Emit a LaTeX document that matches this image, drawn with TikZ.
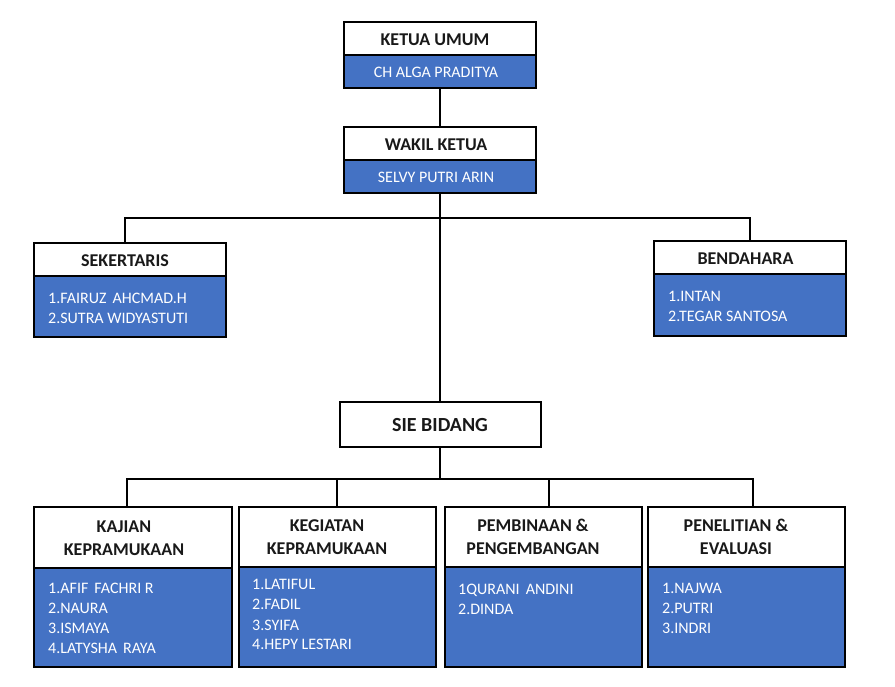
\documentclass[tikz,border=0pt]{standalone}
\usepackage{fontspec}
\setmainfont{Carlito}
\definecolor{boxblue}{HTML}{4472C4}
\newcommand{\wsp}{\hspace{0.38em}}
\begin{document}
\begin{tikzpicture}[x=1pt,y=-1pt,
  hdr/.style={draw=black, line width=2.6pt, fill=white, inner sep=0pt},
  body/.style={draw=black, line width=2.6pt, fill=boxblue, inner sep=0pt},
  htxt/.style={inner sep=0pt, align=center, text=black!90, font=\fontsize{18}{23}\selectfont\bfseries},
  btxt/.style={inner sep=0pt, text=white, font=\fontsize{16}{19.5}\selectfont},
  lst/.style={anchor=north west, inner sep=0pt, align=left, text=white, font=\fontsize{16}{20}\selectfont},
  conn/.style={line width=2pt, draw=black}]
\useasboundingbox (0,0) rectangle (895,687);
\fill[white] (0,0) rectangle (895,687);
% top
\node[hdr, minimum width=192pt, minimum height=33pt] (ku) at (440,38.5) {};
\node[body, minimum width=192pt, minimum height=33pt] (kub) at (440,71.5) {};
\node[htxt] (kut) at (435,39.5) {KETUA UMUM};
\node[btxt] (kubt) at (436,72.5) {CH ALGA PRADITYA};
\node[hdr, minimum width=192pt, minimum height=33pt] (wk) at (440,143.5) {};
\node[body, minimum width=192pt, minimum height=33pt] (wkb) at (440,176.5) {};
\node[htxt] (wkt) at (436,144.5) {WAKIL KETUA};
\node[btxt] (wkbt) at (436,177.5) {SELVY PUTRI ARIN};
% sekertaris
\node[hdr, minimum width=192pt, minimum height=33pt] (sk) at (130,259.5) {};
\node[body, minimum width=192pt, minimum height=61pt] (skb) at (130,306.5) {};
\node[htxt] (skt) at (125,260.5) {SEKERTARIS};
\node[lst] (skl) at (48,293) {1.FAIRUZ\wsp AHCMAD.H\\2.SUTRA WIDYASTUTI};
% bendahara
\node[hdr, minimum width=192pt, minimum height=33pt] (bd) at (750,257.5) {};
\node[body, minimum width=192pt, minimum height=62pt] (bdb) at (750,305) {};
\node[htxt] (bdt) at (745.5,258.5) {BENDAHARA};
\node[lst] (bdl) at (668,291.5) {1.INTAN\\2.TEGAR SANTOSA};
% sie bidang
\node[hdr, minimum width=201pt, minimum height=45pt] (sie) at (440.5,424.5) {};
\node[htxt, font=\fontsize{20}{23}\selectfont\bfseries] (siet) at (440,425.5) {SIE BIDANG};
% bottom row
\node[hdr, minimum width=198pt, minimum height=61pt] (kj) at (133,537.5) {};
\node[body, minimum width=198pt, minimum height=99pt] (kjb) at (133,617.5) {};
\node[htxt] (kjt) at (124,538) {KAJIAN\\KEPRAMUKAAN};
\node[lst] (kjl) at (48,582.5) {1.AFIF\wsp FACHRI R\\2.NAURA\\3.ISMAYA\\4.LATYSHA\wsp RAYA};
\node[hdr, minimum width=197pt, minimum height=60pt] (kg) at (337.5,537) {};
\node[body, minimum width=197pt, minimum height=100pt] (kgb) at (337.5,617) {};
\node[htxt] (kgt) at (327,537) {KEGIATAN\\KEPRAMUKAAN};
\node[lst] (kgl) at (252,579.5) {1.LATIFUL\\2.FADIL\\3.SYIFA\\4.HEPY LESTARI};
\node[hdr, minimum width=197pt, minimum height=60pt] (pb) at (543.5,537) {};
\node[body, minimum width=197pt, minimum height=100pt] (pbb) at (543.5,617) {};
\node[htxt] (pbt) at (533,537) {PEMBINAAN \&\\PENGEMBANGAN};
\node[lst] (pbl) at (458,583.5) {1QURANI\wsp ANDINI\\2.DINDA};
\node[hdr, minimum width=197pt, minimum height=60pt] (pn) at (746.5,537) {};
\node[body, minimum width=197pt, minimum height=100pt] (pnb) at (746.5,617) {};
\node[htxt] (pnt) at (736,537) {PENELITIAN \&\\EVALUASI};
\node[lst] (pnl) at (662,583.5) {1.NAJWA\\2.PUTRI\\3.INDRI};
% connectors
\coordinate (j1) at (440,218);
\coordinate (j2) at (440,479);
\draw[conn] (kub.south) -- (wk.north);
\draw[conn] (wkb.south) -- (wkb.south |- sie.north);
\draw[conn] (j1) -| ([xshift=-5pt]sk.north);
\draw[conn] (j1) -| (bd.north);
\draw[conn] (sie.south -| j2) -- (j2);
\draw[conn] (j2) -| ([xshift=-6pt]kj.north);
\draw[conn] (j2) -| ([xshift=-0.5pt]kg.north);
\draw[conn] (j2) -| ([xshift=5.5pt]pb.north);
\draw[conn] (j2) -| ([xshift=6.5pt]pn.north);
\end{tikzpicture}
\end{document}
